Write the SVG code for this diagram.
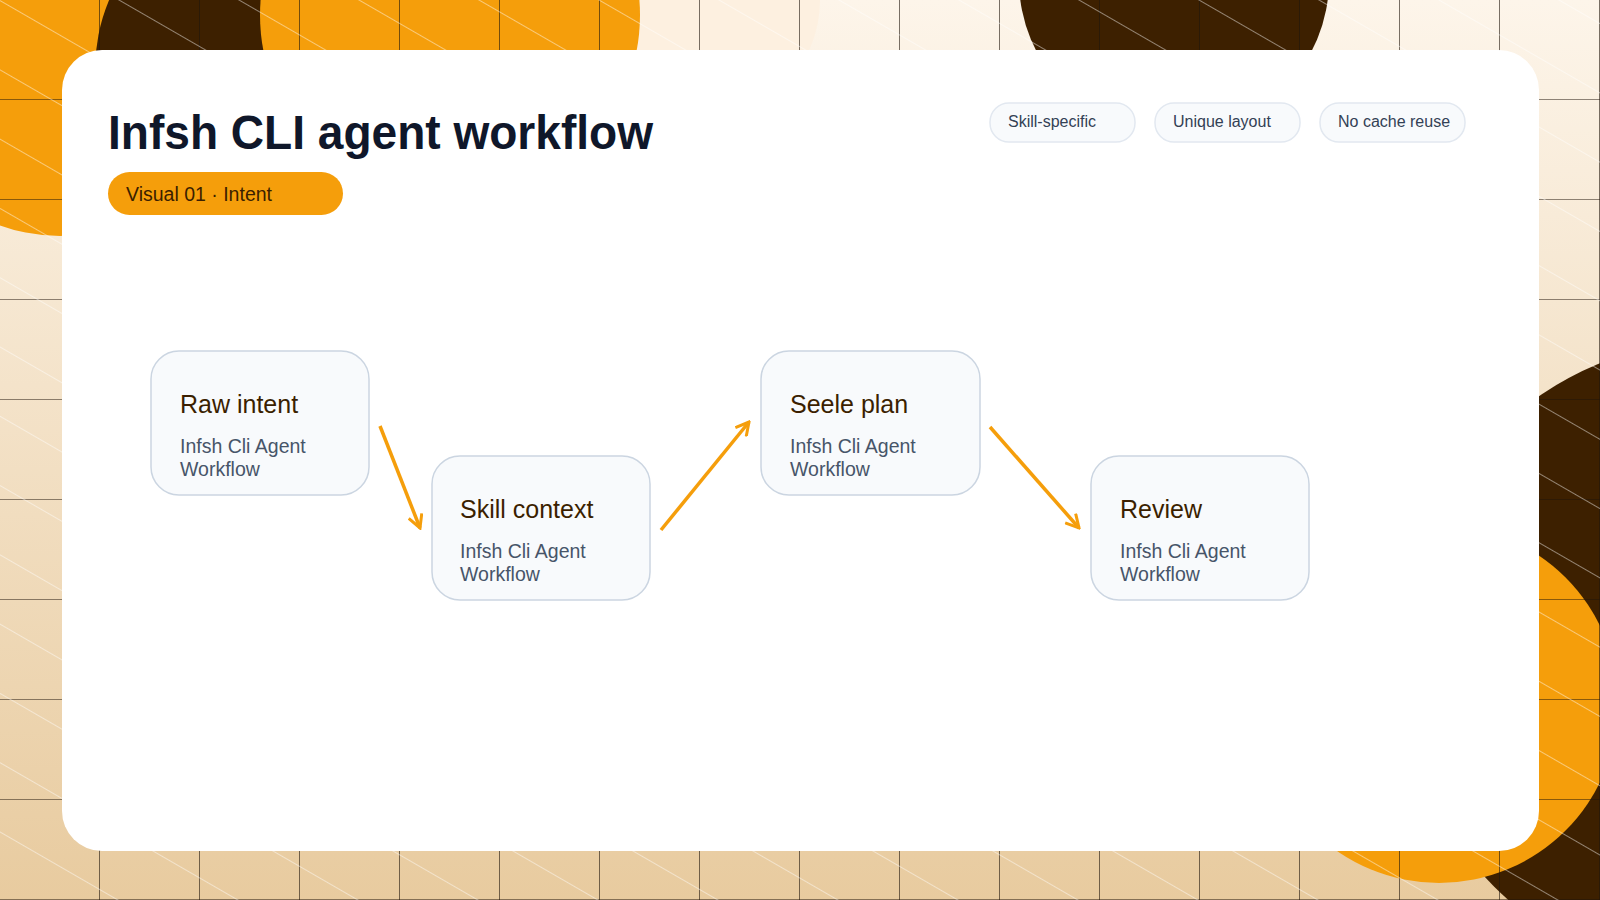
<svg xmlns="http://www.w3.org/2000/svg" width="1600" height="900" viewBox="0 0 1600 900">
<defs>
<linearGradient id="bg" x1="0" y1="0" x2="0" y2="1"><stop offset="0" stop-color="#fdf5ea"/><stop offset="1" stop-color="#e8cb9f"/></linearGradient>
<pattern id="grid" width="100" height="100" patternUnits="userSpaceOnUse"><path d="M100 0V100M0 100H100" fill="none" stroke="#1f140a" stroke-width="1.2"/></pattern>
<pattern id="diag" width="60" height="60" patternUnits="userSpaceOnUse" patternTransform="rotate(30)"><path d="M0 0H60" stroke="#ffffff" stroke-width="1.2"/></pattern>
<marker id="ah" viewBox="0 0 16 16" refX="14" refY="8" markerWidth="16" markerHeight="16" markerUnits="userSpaceOnUse" orient="auto"><path d="M1 1L14 8L1 15" fill="none" stroke="#f59e0b" stroke-width="3"/></marker>
<style>
.node rect{fill:#f8fafc;stroke:#cbd5e1;stroke-width:1.5}
.nt{font-family:"Liberation Sans",Arial,sans-serif;font-size:25px;fill:#3b1f00}
.ns{font-family:"Liberation Sans",Arial,sans-serif;font-size:19.5px;fill:#475569}
.tag rect{fill:#f8fafc;stroke:#e2e8f0;stroke-width:1.5}
.tag text{font-family:"Liberation Sans",Arial,sans-serif;font-size:16px;fill:#334155}
.conn{stroke:#f59e0b;stroke-width:3.5;fill:none;marker-end:url(#ah)}
</style>
</defs>
<rect width="1600" height="900" fill="url(#bg)"/>
<circle cx="700" cy="0" r="120" fill="#fdf0e0"/>
<circle cx="60" cy="60" r="176" fill="#f59e0b"/>
<circle cx="275" cy="70" r="180" fill="#3d2000"/>
<circle cx="450" cy="15" r="190" fill="#f59e0b"/>
<circle cx="1174" cy="-20" r="155" fill="#3d2000"/>
<circle cx="1720" cy="660" r="320" fill="#3d2000"/>
<circle cx="1439" cy="704" r="179" fill="#f59e0b"/>
<rect width="1600" height="900" fill="url(#grid)"/>
<rect width="1600" height="900" fill="url(#diag)" opacity="0.9"/>
<rect x="62" y="50" width="1477" height="801" rx="40" fill="#ffffff"/>
<text x="108" y="149" font-family="Liberation Sans,Arial,sans-serif" font-size="48" font-weight="bold" fill="#0f172a" textLength="545" lengthAdjust="spacingAndGlyphs">Infsh CLI agent workflow</text>
<g id="badge"><rect x="108" y="172" width="235" height="43" rx="21.5" fill="#f59e0b"/><text x="126" y="201" font-family="Liberation Sans,Arial,sans-serif" font-size="19.5" fill="#3b1f00">Visual 01 · Intent</text></g>
<g id="tag1" class="tag"><rect x="990" y="103" width="145" height="39" rx="19"/><text x="1008" y="127">Skill-specific</text></g>
<g id="tag2" class="tag"><rect x="1155" y="103" width="145" height="39" rx="19"/><text x="1173" y="127">Unique layout</text></g>
<g id="tag3" class="tag"><rect x="1320" y="103" width="145" height="39" rx="19"/><text x="1338" y="127">No cache reuse</text></g>
<g id="connectors">
<line class="conn" x1="380" y1="426" x2="420" y2="528"/>
<line class="conn" x1="661" y1="530" x2="749" y2="422"/>
<line class="conn" x1="990" y1="427" x2="1079" y2="528"/>
</g>
<g id="raw" class="node"><rect x="151" y="351" width="218" height="144" rx="28"/><text class="nt" x="180" y="413">Raw intent</text><text class="ns" x="180" y="453">Infsh Cli Agent</text><text class="ns" x="180" y="476">Workflow</text></g>
<g id="skill" class="node"><rect x="432" y="456" width="218" height="144" rx="28"/><text class="nt" x="460" y="518">Skill context</text><text class="ns" x="460" y="558">Infsh Cli Agent</text><text class="ns" x="460" y="581">Workflow</text></g>
<g id="seele" class="node"><rect x="761" y="351" width="219" height="144" rx="28"/><text class="nt" x="790" y="413">Seele plan</text><text class="ns" x="790" y="453">Infsh Cli Agent</text><text class="ns" x="790" y="476">Workflow</text></g>
<g id="review" class="node"><rect x="1091" y="456" width="218" height="144" rx="28"/><text class="nt" x="1120" y="518">Review</text><text class="ns" x="1120" y="558">Infsh Cli Agent</text><text class="ns" x="1120" y="581">Workflow</text></g>
</svg>
